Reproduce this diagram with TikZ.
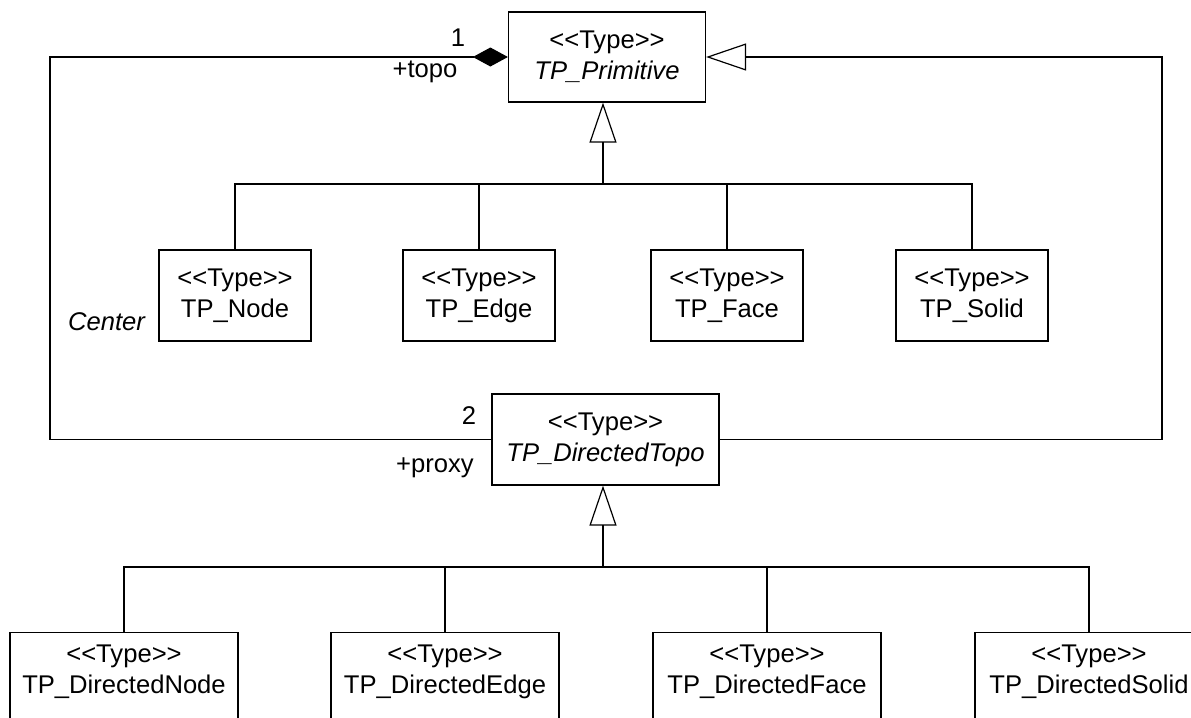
\documentclass[tikz,border=0pt]{standalone}
\usepackage{fontspec}
\setmainfont{Liberation Sans}
\usetikzlibrary{arrows.meta}
\begin{document}
\begin{tikzpicture}[x=0.5pt,y=-0.5pt,
  every node/.style={font=\fontsize{12.8}{15.5}\selectfont, text=black},
  cls/.style={draw=black, line width=0.6pt, align=center, inner sep=0pt},
  midbox/.style={cls, minimum width=76pt, minimum height=45.5pt},
  botbox/.style={cls, anchor=north, minimum width=114pt, minimum height=60pt},
  txt/.style={align=center, inner sep=0pt},
  lbl/.style={inner sep=0pt},
  ln/.style={draw=black, line width=0.6pt},
  gen/.style={ln, -{Triangle[open, length=20pt, width=13.5pt, line width=0.6pt]}},
  comp/.style={ln, {Diamond[length=17.5pt, width=9.5pt]}-}
]
\useasboundingbox (0,0) rectangle (1191,718);
\clip (0,0) rectangle (1191,718);

% top class
\node[cls, minimum width=98.5pt, minimum height=45pt] (prim) at (607,57)
  {<{}<Type>{}>\\\textit{TP\_Primitive}};

% middle row
\node[midbox] (tnode) at (235,295.5) {<{}<Type>{}>\\TP\_Node};
\node[midbox] (tedge) at (479,295.5) {<{}<Type>{}>\\TP\_Edge};
\node[midbox] (tface) at (727,295.5) {<{}<Type>{}>\\TP\_Face};
\node[midbox] (tsolid) at (972,295.5) {<{}<Type>{}>\\TP\_Solid};

% directed topo
\node[cls, minimum width=113.5pt, minimum height=45.5pt] (topo) at (605.5,439.5)
  {<{}<Type>{}>\\\textit{TP\_DirectedTopo}};

% bottom row (cut by the picture's edge)
\node[botbox] (dnode) at (124,632) {};
\node[botbox] (dedge) at (445,632) {};
\node[botbox] (dface) at (767,632) {};
\node[botbox] (dsolid) at (1089,632) {};
\node[txt] at (124,671.5) {<{}<Type>{}>\\TP\_DirectedNode};
\node[txt] at (445,671.5) {<{}<Type>{}>\\TP\_DirectedEdge};
\node[txt] at (767,671.5) {<{}<Type>{}>\\TP\_DirectedFace};
\node[txt] at (1089,671.5) {<{}<Type>{}>\\TP\_DirectedSolid};

% generalisation to TP_Primitive
\coordinate (bus1) at (603,184);
\draw[gen] (bus1) -- (bus1 |- prim.south);
\draw[ln] (tnode.north) |- (bus1);
\draw[ln] (tedge.north) |- (bus1);
\draw[ln] (tface.north) |- (bus1);
\draw[ln] (tsolid.north) |- (bus1);

% generalisation to TP_DirectedTopo
\coordinate (bus2) at (603,567);
\draw[gen] (bus2) -- (bus2 |- topo.south);
\draw[ln] (dnode.north) |- (bus2);
\draw[ln] (dedge.north) |- (bus2);
\draw[ln] (dface.north) |- (bus2);
\draw[ln] (dsolid.north) |- (bus2);

% composition loop (left)
\coordinate (lc) at (50,57);
\draw[comp] (prim.west) -- (lc) |- (topo.west);

% generalisation loop (right)
\coordinate (rc) at (1162,57);
\draw[gen] (topo.east) -| (rc) -- (prim.east);

% labels
\node[lbl] (one) at (458,38) {1};
\node[lbl] (topol) at (425,72) {+topo};
\node[lbl] (two) at (469,416) {2};
\node[lbl] (proxy) at (435,468) {+proxy};
\node[lbl] (center) at (107,322) {\textit{Center}};
\end{tikzpicture}
\end{document}
